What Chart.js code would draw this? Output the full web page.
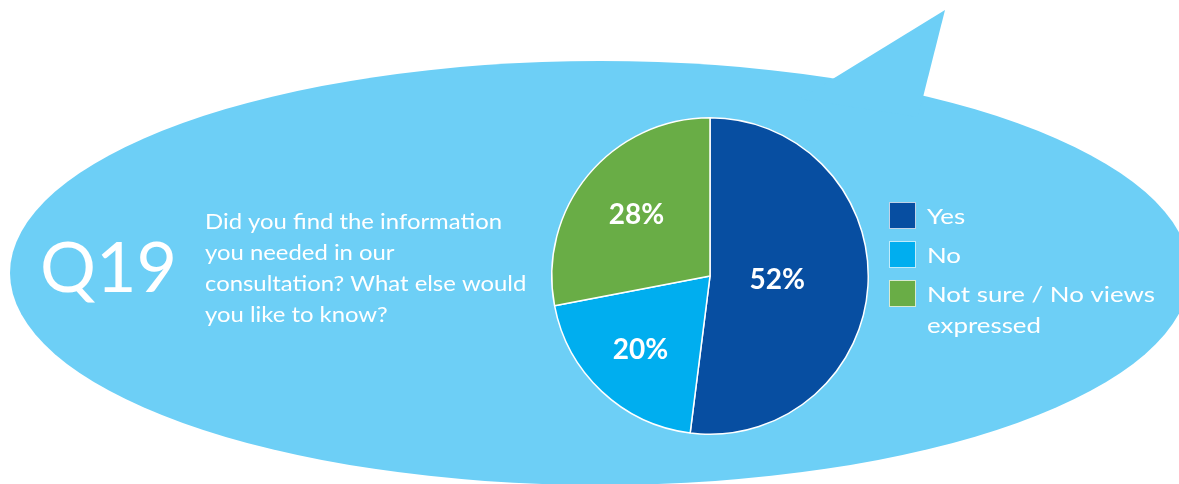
<!DOCTYPE html>
<html>
<head>
<meta charset="utf-8">
<script src="https://cdn.jsdelivr.net/npm/chart.js@4/dist/chart.umd.min.js"></script>
<style>
  html, body { margin: 0; padding: 0; background: #ffffff; }
  #wrap { position: relative; width: 1179px; height: 484px; }
</style>
</head>
<body>
<div id="wrap"><canvas id="q19-chart" width="1179" height="484"></canvas></div>
<script>
const questionNo = "Q19";
const questionLines = [
    "Did you find the information",
    "you needed in our",
    "consultation? What else would",
    "you like to know?"
];
const answers = ["Yes", "No", ["Not sure / No views", "expressed"]];
const shares = [52, 20, 28];
const sliceColors = ["#074ea1", "#00aeef", "#69ad46"];

const BUBBLE = "#6dcff6";

// draw text squeezed/stretched so the widest line hits a given width
function fitLines(ctx, lines, x, y0, step, refText, refWidth) {
    const sx = refWidth / ctx.measureText(refText).width;
    lines.forEach((line, i) => {
        ctx.save();
        ctx.translate(x, y0 + i * step);
        ctx.scale(sx, 1);
        ctx.fillText(line, 0, 0);
        ctx.restore();
    });
}

// speech bubble behind everything
const bubblePlugin = {
    id: "bubble",
    beforeDraw(chart) {
        const ctx = chart.ctx;
        ctx.save();
        ctx.fillStyle = BUBBLE;
        ctx.beginPath();
        ctx.ellipse(600, 273, 590, 212, 0, 0, Math.PI * 2);
        ctx.fill();
        ctx.beginPath();
        ctx.moveTo(800, 99);
        ctx.lineTo(945, 10);
        ctx.lineTo(918, 117);
        ctx.closePath();
        ctx.fill();
        ctx.restore();
    }
};

// question number + question text on the left
const questionPlugin = {
    id: "question",
    afterDraw(chart) {
        const ctx = chart.ctx;
        ctx.save();
        ctx.fillStyle = "#ffffff";
        ctx.textBaseline = "alphabetic";
        ctx.textAlign = "left";

        ctx.font = "400 70px Lato";
        fitLines(ctx, [questionNo], 40, 292, 0, questionNo, 137);

        ctx.font = "400 21px Lato";
        fitLines(ctx, questionLines, 205, 229, 31, questionLines[0], 297);
        ctx.restore();
    }
};

// legend on the right, built from labels and colours
const legendPlugin = {
    id: "sideLegend",
    afterDraw(chart) {
        const ctx = chart.ctx;
        const labels = chart.data.labels;
        const colors = chart.data.datasets[0].backgroundColor;
        const tops = [202, 241, 280];
        ctx.save();
        ctx.font = "400 22px Lato";
        labels.forEach((label, i) => {
            const y = tops[i];
            ctx.fillStyle = colors[i];
            ctx.fillRect(889, y, 27, 27);
            ctx.strokeStyle = "rgba(255,255,255,0.75)";
            ctx.lineWidth = 1;
            ctx.strokeRect(889.5, y + 0.5, 26, 26);
            ctx.fillStyle = "#ffffff";
            const lines = Array.isArray(label) ? label : [label];
            fitLines(ctx, lines, 927, y + 22, 31, "Not sure / No views", 228);
        });
        ctx.restore();
    }
};

// percentage near the centroid of each slice
const sliceLabelPlugin = {
    id: "sliceLabels",
    afterDatasetsDraw(chart) {
        const ctx = chart.ctx;
        const meta = chart.getDatasetMeta(0);
        ctx.save();
        ctx.fillStyle = "#ffffff";
        ctx.font = "700 28px Lato";
        ctx.textAlign = "center";
        ctx.textBaseline = "middle";
        meta.data.forEach((arc, i) => {
            const p = arc.getProps(["x", "y", "startAngle", "endAngle", "outerRadius"], true);
            const half = (p.endAngle - p.startAngle) / 2;
            const mid = p.startAngle + half;
            const d = 2 * p.outerRadius * Math.sin(half) / (3 * half) + 3;
            ctx.fillText(shares[i] + "%", p.x + Math.cos(mid) * d, p.y + Math.sin(mid) * d);
        });
        ctx.restore();
    }
};

const ctx = document.getElementById("q19-chart").getContext("2d");
new Chart(ctx, {
    type: "pie",
    data: {
        labels: answers,
        datasets: [{
            data: shares,
            backgroundColor: sliceColors,
            borderColor: "#ffffff",
            borderWidth: 1.5
        }]
    },
    options: {
        responsive: false,
        animation: false,
        layout: { padding: { left: 551, right: 310, top: 117, bottom: 49 } },
        plugins: {
            legend: { display: false },
            tooltip: { enabled: false }
        }
    },
    plugins: [bubblePlugin, questionPlugin, legendPlugin, sliceLabelPlugin]
});
</script>
</body>
</html>
